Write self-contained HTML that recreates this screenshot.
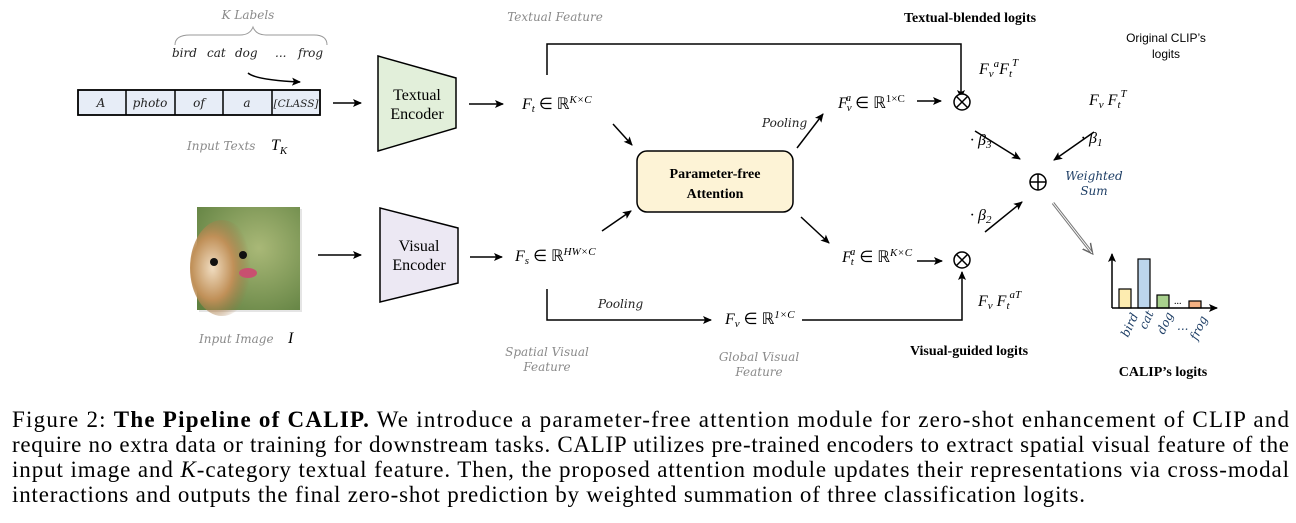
<!DOCTYPE html>
<html><head><meta charset="utf-8"><style>
html,body{margin:0;padding:0;background:#fff;width:1296px;height:523px;overflow:hidden}
svg{display:block}
.g{font-family:"DejaVu Serif","Liberation Serif",serif;font-style:italic;fill:#8a8a8a;font-size:12px}
.m{font-family:"Liberation Serif",serif;font-style:italic;font-size:16px;fill:#000}
.b{font-family:"Liberation Serif",serif;font-weight:bold;font-size:14px;fill:#000}
.c{font-family:"Liberation Serif",serif;font-size:23px;fill:#000}
</style></head><body>
<svg width="1296" height="523" viewBox="0 0 1296 523" xmlns="http://www.w3.org/2000/svg">
<defs>
<marker id="a" markerWidth="10" markerHeight="10" refX="8" refY="5" orient="auto" markerUnits="userSpaceOnUse"><path d="M0,1 L9,5 L0,9 L2,5 Z" fill="#000"/></marker>
<marker id="ag" markerWidth="12" markerHeight="12" refX="9" refY="6" orient="auto" markerUnits="userSpaceOnUse"><path d="M0,1 L10,6 L0,11" fill="none" stroke="#666" stroke-width="1.5"/></marker>
<radialGradient id="grass" cx="0.6" cy="0.4" r="0.8"><stop offset="0" stop-color="#a9b877"/><stop offset="1" stop-color="#5f8040"/></radialGradient>
<radialGradient id="fur" cx="0.35" cy="0.5" r="0.6"><stop offset="0" stop-color="#f0dcc0"/><stop offset="0.55" stop-color="#c09058"/><stop offset="1" stop-color="#9a7040" stop-opacity="0"/></radialGradient>
</defs>

<text class="g" x="248" y="19" text-anchor="middle">K Labels</text>
<path d="M175,45 Q175,35 190,35 L240,35 Q250,35 253,27 Q256,35 266,35 L314,35 Q327,35 327,45" fill="none" stroke="#999" stroke-width="1"/>
<text class="g" x="172" y="57" style="fill:#222">bird</text>
<text class="g" x="207" y="57" style="fill:#222">cat</text>
<text class="g" x="235" y="57" style="fill:#222">dog</text>
<text class="g" x="275" y="57" style="fill:#222">...</text>
<text class="g" x="298" y="57" style="fill:#222">frog</text>
<path d="M248,73 Q256,80 300,82" fill="none" stroke="#000" stroke-width="1.5" marker-end="url(#a)"/>
<rect x="78" y="90" width="242" height="25" stroke="#000" stroke-width="1.8" fill="#e7edf7"/>
<g stroke="#000" stroke-width="1.5"><line x1="126" y1="90" x2="126" y2="115"/><line x1="175" y1="90" x2="175" y2="115"/><line x1="223" y1="90" x2="223" y2="115"/><line x1="272" y1="90" x2="272" y2="115"/></g>
<g class="g" style="fill:#222" text-anchor="middle"><text x="101" y="107">A</text><text x="150" y="107">photo</text><text x="199" y="107">of</text><text x="247" y="107">a</text><text x="296" y="107" font-size="10.5">[CLASS]</text></g>
<text class="g" x="187" y="150" font-size="13">Input Texts</text>
<text class="m" x="271" y="150" font-size="18">T<tspan font-size="11" dy="4">K</tspan></text>
<line x1="333" y1="103" x2="361" y2="103" stroke="#000" stroke-width="1.5" marker-end="url(#a)"/>
<polygon points="378,56 456,78 456,128 378,151" fill="#e2efda" stroke="#000" stroke-width="1.5"/>
<text x="417" y="100" text-anchor="middle" font-family="Liberation Serif" font-size="16">Textual</text>
<text x="417" y="119" text-anchor="middle" font-family="Liberation Serif" font-size="16">Encoder</text>
<line x1="469" y1="104" x2="503" y2="104" stroke="#000" stroke-width="1.5" marker-end="url(#a)"/>
<text class="m" x="522" y="109">F<tspan font-size="11" dy="3">t</tspan><tspan dy="-3" font-style="normal"> ∈ ℝ</tspan><tspan font-size="11" dy="-6">K×C</tspan></text>
<text class="g" x="555" y="21" text-anchor="middle">Textual Feature</text>
<polyline points="547,75 547,44 961,44 961,98" fill="none" stroke="#000" stroke-width="1.5" marker-end="url(#a)"/>

<line x1="613" y1="124" x2="632" y2="145" stroke="#000" stroke-width="1.5" marker-end="url(#a)"/>
<rect x="637" y="151" width="156" height="61" rx="10" fill="#fdf3d6" stroke="#000" stroke-width="1.5"/>
<text class="b" x="715" y="178" text-anchor="middle" font-size="15">Parameter-free</text>
<text class="b" x="715" y="198" text-anchor="middle" font-size="15">Attention</text>
<line x1="797" y1="148" x2="823" y2="114" stroke="#000" stroke-width="1.5" marker-end="url(#a)"/>
<text class="g" x="762" y="127" style="fill:#222" font-size="11">Pooling</text>
<text class="m" x="838" y="108">F<tspan font-size="11" dy="3" dx="-1">v</tspan><tspan font-size="11" dy="-10" dx="-6">a</tspan><tspan dy="7" font-style="normal"> ∈ ℝ</tspan><tspan font-size="11" dy="-6" font-style="normal">1×C</tspan></text>
<line x1="917" y1="101" x2="941" y2="101" stroke="#000" stroke-width="1.5" marker-end="url(#a)"/>
<g stroke="#000" stroke-width="1.5" fill="#fff"><circle cx="962" cy="102" r="8"/><line x1="956" y1="96" x2="968" y2="108"/><line x1="968" y1="96" x2="956" y2="108"/></g>
<text class="b" x="970" y="22" text-anchor="middle">Textual-blended logits</text>
<text class="m" x="979" y="74">F<tspan font-size="11" dy="3">v</tspan><tspan font-size="11" dy="-10">a</tspan><tspan dy="7">F</tspan><tspan font-size="11" dy="3">t</tspan><tspan font-size="11" dy="-11">T</tspan></text>
<text x="1166" y="42" text-anchor="middle" font-family="Liberation Sans" font-size="12">Original CLIP’s</text>
<text x="1166" y="58" text-anchor="middle" font-family="Liberation Sans" font-size="12">logits</text>
<text class="m" x="1089" y="105">F<tspan font-size="11" dy="3">v</tspan><tspan dy="-3"> F</tspan><tspan font-size="11" dy="3">t</tspan><tspan font-size="11" dy="-11">T</tspan></text>
<line x1="975" y1="131" x2="1020" y2="159" stroke="#000" stroke-width="1.5" marker-end="url(#a)"/>
<line x1="1094" y1="132" x2="1054" y2="160" stroke="#000" stroke-width="1.5" marker-end="url(#a)"/>
<text class="m" x="970" y="145">· β<tspan font-size="11" dy="3">3</tspan></text>
<text class="m" x="1081" y="143">· β<tspan font-size="11" dy="3">1</tspan></text>
<g stroke="#000" stroke-width="1.5" fill="#fff"><circle cx="1038" cy="182" r="8"/><line x1="1030" y1="182" x2="1046" y2="182"/><line x1="1038" y1="174" x2="1038" y2="190"/></g>
<text class="g" x="1094" y="180" text-anchor="middle" style="fill:#1f3f66">Weighted</text>
<text class="g" x="1094" y="195" text-anchor="middle" style="fill:#1f3f66">Sum</text>
<line x1="1053" y1="203" x2="1092" y2="253" stroke="#777" stroke-width="3" marker-end="url(#ag)"/>
<line x1="1053" y1="203" x2="1092" y2="253" stroke="#fff" stroke-width="1"/>

<rect x="199" y="209" width="103" height="103" fill="#ccc" opacity="0.5"/>
<rect x="197" y="207" width="103" height="103" fill="url(#grass)"/>
<ellipse cx="222" cy="268" rx="32" ry="48" fill="url(#fur)"/>
<circle cx="214" cy="262" r="4" fill="#111"/><circle cx="243" cy="255" r="4" fill="#111"/>
<ellipse cx="248" cy="273" rx="9" ry="5" fill="#c85070"/>
<text class="g" x="199" y="343" font-size="13">Input Image</text>
<text class="m" x="288" y="343" font-size="17">I</text>
<line x1="318" y1="255" x2="361" y2="255" stroke="#000" stroke-width="1.5" marker-end="url(#a)"/>
<polygon points="380,208 458,228 458,283 380,302" fill="#ece8f3" stroke="#000" stroke-width="1.5"/>
<text x="419" y="251" text-anchor="middle" font-family="Liberation Serif" font-size="16">Visual</text>
<text x="419" y="270" text-anchor="middle" font-family="Liberation Serif" font-size="16">Encoder</text>
<line x1="470" y1="257" x2="502" y2="257" stroke="#000" stroke-width="1.5" marker-end="url(#a)"/>
<text class="m" x="515" y="261">F<tspan font-size="11" dy="3">s</tspan><tspan dy="-3" font-style="normal"> ∈ ℝ</tspan><tspan font-size="11" dy="-6">HW×C</tspan></text>
<line x1="602" y1="231" x2="631" y2="211" stroke="#000" stroke-width="1.5" marker-end="url(#a)"/>
<line x1="801" y1="217" x2="829" y2="243" stroke="#000" stroke-width="1.5" marker-end="url(#a)"/>
<text class="m" x="842" y="262">F<tspan font-size="11" dy="3" dx="-1">t</tspan><tspan font-size="11" dy="-10" dx="-4">a</tspan><tspan dy="7" font-style="normal"> ∈ ℝ</tspan><tspan font-size="11" dy="-6">K×C</tspan></text>
<line x1="917" y1="261" x2="942" y2="261" stroke="#000" stroke-width="1.5" marker-end="url(#a)"/>
<g stroke="#000" stroke-width="1.5" fill="#fff"><circle cx="962" cy="260" r="8"/><line x1="956" y1="254" x2="968" y2="266"/><line x1="968" y1="254" x2="956" y2="266"/></g>
<line x1="985" y1="232" x2="1022" y2="202" stroke="#000" stroke-width="1.5" marker-end="url(#a)"/>
<text class="m" x="970" y="220">· β<tspan font-size="11" dy="3">2</tspan></text>
<polyline points="547,289 547,320 711,320" fill="none" stroke="#000" stroke-width="1.5" marker-end="url(#a)"/>
<text class="g" x="598" y="308" style="fill:#222" font-size="11">Pooling</text>
<text class="m" x="725" y="324">F<tspan font-size="11" dy="3">v</tspan><tspan dy="-3" font-style="normal"> ∈ ℝ</tspan><tspan font-size="11" dy="-6">1×C</tspan></text>
<polyline points="802,320 962,320 962,272" fill="none" stroke="#000" stroke-width="1.5" marker-end="url(#a)"/>
<text class="m" x="978" y="306">F<tspan font-size="11" dy="3">v</tspan><tspan dy="-3"> F</tspan><tspan font-size="11" dy="3">t</tspan><tspan font-size="11" dy="-11">aT</tspan></text>
<text class="g" x="547" y="356" text-anchor="middle">Spatial Visual</text>
<text class="g" x="547" y="371" text-anchor="middle">Feature</text>
<text class="g" x="759" y="361" text-anchor="middle">Global Visual</text>
<text class="g" x="759" y="376" text-anchor="middle">Feature</text>
<text class="b" x="969" y="355" text-anchor="middle">Visual-guided logits</text>

<g stroke="#000" stroke-width="1.2">
<rect x="1119" y="289" width="12" height="19" fill="#fdecb0"/>
<rect x="1138" y="259" width="12" height="49" fill="#bcd5ec"/>
<rect x="1157" y="295" width="12" height="13" fill="#a8d08d"/>
<rect x="1189" y="301" width="12" height="7" fill="#f4b183"/>
</g>
<line x1="1112" y1="308" x2="1112" y2="254" stroke="#000" stroke-width="1.5" marker-end="url(#a)"/>
<line x1="1112" y1="308" x2="1217" y2="308" stroke="#000" stroke-width="1.5" marker-end="url(#a)"/>
<text x="1174" y="304" font-size="10" font-family="Liberation Serif">...</text>
<g class="g" style="fill:#1f3f66" font-size="11">
<text transform="translate(1128,338) rotate(-65)">bird</text>
<text transform="translate(1146,330) rotate(-65)">cat</text>
<text transform="translate(1164,335) rotate(-65)">dog</text>
<text x="1177" y="330">...</text>
<text transform="translate(1197,341) rotate(-65)">frog</text>
</g>
<text class="b" x="1163" y="376" text-anchor="middle">CALIP’s logits</text>

<text class="c" x="12" y="427" textLength="1277" lengthAdjust="spacing">Figure 2: <tspan font-weight="bold">The Pipeline of CALIP.</tspan> We introduce a parameter-free attention module for zero-shot enhancement of CLIP and</text>
<text class="c" x="12" y="452" textLength="1277" lengthAdjust="spacing">require no extra data or training for downstream tasks. CALIP utilizes pre-trained encoders to extract spatial visual feature of the</text>
<text class="c" x="12" y="477" textLength="1277" lengthAdjust="spacing">input image and <tspan font-style="italic">K</tspan>-category textual feature. Then, the proposed attention module updates their representations via cross-modal</text>
<text class="c" x="12" y="502" textLength="1073" lengthAdjust="spacing">interactions and outputs the final zero-shot prediction by weighted summation of three classification logits.</text>
</svg>
</body></html>
